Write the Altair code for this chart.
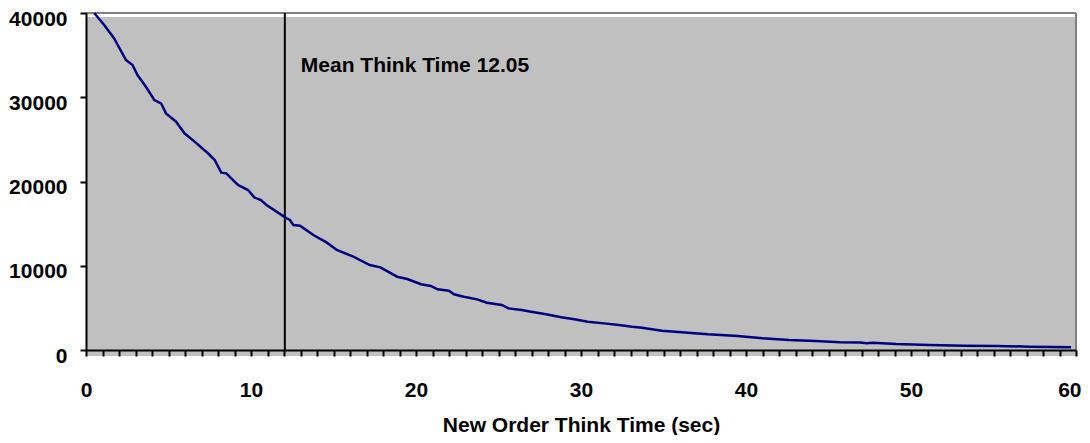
import altair as alt
import pandas as pd

# Think time (sec) and count
think_time = [0.5, 1.1, 1.7, 2.42, 2.82, 3.12, 3.63, 4.14, 4.55, 4.85, 5.46, 5.97,
              6.58, 7.39, 7.8, 8.2, 8.5, 9.21, 9.82, 10.2, 10.6, 10.94, 11.55,
              12.16, 12.36, 12.57, 12.97, 13.78, 14.6, 15.2, 16.2, 17.2, 17.84,
              18.86, 19.47, 20.3, 20.9, 21.3, 22.0, 22.3, 22.9, 23.7, 24.3, 25.2,
              25.6, 26.4, 26.98, 27.8, 28.8, 29.6, 30.4, 31.4, 32.3, 33.1, 33.7,
              34.9, 36.5, 37.7, 39.5, 41.0, 42.6, 44.2, 45.7, 46.9, 47.3, 47.7,
              49.1, 51.1, 53.2, 55.2, 57.2, 59.7]
counts = [40000, 38570, 37000, 34420, 33830, 32640, 31250, 29670, 29280, 28090,
          27100, 25720, 24730, 23350, 22550, 21050, 20970, 19590, 18990, 18120,
          17800, 17210, 16420, 15630, 15430, 14840, 14760, 13650, 12740, 11870,
          11080, 10090, 9810, 8700, 8430, 7800, 7600, 7200, 7040, 6610, 6330,
          6010, 5610, 5340, 4940, 4750, 4550, 4270, 3880, 3640, 3360, 3160, 2970,
          2770, 2650, 2290, 2050, 1860, 1660, 1390, 1190, 1070, 910, 900, 800,
          870, 710, 590, 510, 475, 400, 320]

mean_value = [12.05]
mean_label = ["Mean Think Time 12.05"]
mean_label_y = [33000]

x_tick_values = list(range(0, 61))
y_tick_values = [0, 10000, 20000, 30000, 40000]

W, H = 990, 337
FONT = "Liberation Sans"

df = pd.DataFrame({"t": think_time, "n": counts})
mean_df = pd.DataFrame({"t": mean_value, "label": mean_label, "y": mean_label_y})

x_scale = alt.Scale(domain=[0, 60], nice=False, zero=False)
y_scale = alt.Scale(domain=[0, 40000], nice=False)

x_axis = alt.Axis(values=x_tick_values, labelExpr="datum.value % 10 === 0 ? datum.label : ''",
                  labelAlign={"expr": "datum.value == 60 ? 'right' : 'center'"},
                  labelOffset={"expr": "datum.value == 60 ? 5 : 0"},
                  grid=False, labelFont=FONT, labelFontSize=21, labelFontWeight="bold",
                  labelColor="black", labelOverlap=False, labelFlush=False,
                  domainColor="black", domainWidth=2, tickColor="black", tickWidth=2,
                  tickSize=6, labelPadding=23, title="New Order Think Time (sec)",
                  titleFont=FONT, titleFontSize=21, titleFontWeight="bold",
                  titleColor="black", titlePadding=14, zindex=2)
y_axis = alt.Axis(values=y_tick_values, format="d", grid=False, labelFont=FONT,
                  labelFontSize=21, labelFontWeight="bold", labelColor="black",
                  labelOverlap=False, labelFlush=False, labelOffset=6,
                  domainColor="black", domainWidth=2, tickColor="black", tickWidth=2,
                  tickSize=6, labelPadding=13, title=None, zindex=2)

X = alt.X("t:Q", scale=x_scale, axis=x_axis)
Y_line = alt.Y("n:Q", scale=y_scale, axis=y_axis)
Y_text = alt.Y("y:Q", scale=y_scale, axis=y_axis)

base = alt.Chart(df)

# gray strip below the axis (Excel plot area extends under ticks)
under = base.mark_rect(color="#C0C0C0", clip=False).encode(
    x=alt.value(0), x2=alt.value(W), y=alt.value(H), y2=alt.value(H + 6))
top_white = base.mark_rect(color="white").encode(
    x=alt.value(1), x2=alt.value(W), y=alt.value(1), y2=alt.value(4))
top_border = base.mark_rule(color="#808080", strokeWidth=2).encode(
    x=alt.value(0), x2=alt.value(W), y=alt.value(0))
right_border = base.mark_rule(color="#808080", strokeWidth=2).encode(
    x=alt.value(W), y=alt.value(0), y2=alt.value(H))

line = base.mark_line(color="#000080", strokeWidth=2.5).encode(x=X, y=Y_line)

rule = alt.Chart(mean_df).mark_rule(color="black", strokeWidth=2).encode(x=X)
text = alt.Chart(mean_df).mark_text(align="left", baseline="alphabetic", dx=16,
                                    font=FONT, fontSize=21, fontWeight="bold",
                                    color="black").encode(x=X, y=Y_text, text="label:N")

chart = alt.layer(under, top_white, top_border, right_border, rule, line, text).properties(
    width=W, height=H,
    autosize=alt.AutoSizeParams(type="none"),
    padding={"left": 78, "top": 5, "right": 6, "bottom": 85},
    background="white",
).configure_view(fill="#C0C0C0", stroke=None)

chart.save("out.html", embed_options={"renderer": "svg", "actions": False})
